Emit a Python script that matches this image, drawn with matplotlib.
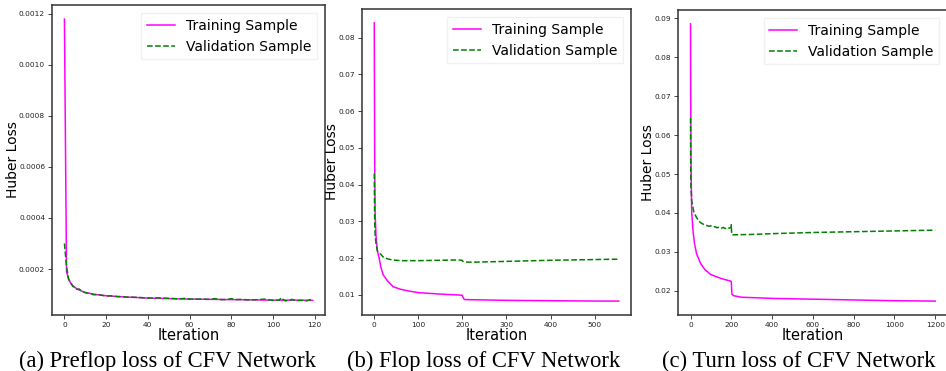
import matplotlib
matplotlib.use('Agg')
import matplotlib.pyplot as plt

# (a) preflop
pre_it_train = [0, 1, 2, 3, 4, 5, 6, 8, 10, 15, 20, 30, 40, 50, 60, 70, 80, 90, 100, 110, 119]
pre_train = [0.00118, 0.00019, 0.00016, 0.000145, 0.000135, 0.000128, 0.000122, 0.000114,
             0.000108, 0.0001, 0.000095, 0.00009, 0.000086, 0.000084, 0.000082, 0.000081,
             0.00008, 0.000079, 0.000078, 0.000078, 0.000077]
pre_it_val = [0, 1, 2, 3, 4, 5, 6, 7, 8, 10, 12, 14, 16, 18, 20, 22, 25, 28, 30, 35, 40, 45,
              50, 55, 58, 60, 65, 70, 72, 75, 78, 80, 82, 85, 88, 90, 93, 96, 98, 100, 103,
              104, 105, 106, 108, 109, 111, 114, 116, 118, 119]
pre_val = [0.0003, 0.00021, 0.00016, 0.000145, 0.000132, 0.000128, 0.00012, 0.000122,
           0.000115, 0.000107, 0.000104, 0.000099, 0.0001, 0.000097, 0.000094, 0.000095,
           0.000092, 0.000091, 0.00009, 0.000089, 0.000086, 0.000087, 0.000085, 0.000083,
           0.000085, 0.000082, 0.000082, 0.000081, 0.000084, 0.00008, 0.00008, 0.000084,
           0.00008, 0.000081, 0.000079, 0.000079, 0.00008, 0.000082, 0.000079, 0.000077,
           0.000078, 0.000088, 0.000079, 0.000075, 0.000077, 0.000081, 0.000076, 0.000077,
           0.000075, 0.00008, 0.000077]

# (b) flop
flop_it_train = [0, 1, 2, 4, 7, 11, 15, 20, 30, 43, 60, 80, 100, 150, 199, 200, 203, 206,
                 250, 300, 400, 500, 555]
flop_train = [0.084, 0.045, 0.032, 0.026, 0.022, 0.02, 0.0175, 0.0155, 0.0138, 0.0122,
              0.0115, 0.011, 0.0106, 0.0102, 0.0099, 0.0098, 0.0089, 0.0087, 0.0086, 0.0085,
              0.0084, 0.0083, 0.0083]
flop_it_val = [0, 1, 2, 4, 7, 10, 15, 20, 30, 40, 60, 80, 100, 150, 190, 199, 200, 205, 230,
               300, 400, 500, 555]
flop_val = [0.043, 0.03, 0.026, 0.024, 0.022, 0.0215, 0.021, 0.0203, 0.0198, 0.0195, 0.0193,
            0.0193, 0.0193, 0.0194, 0.0195, 0.0194, 0.0192, 0.0189, 0.0189, 0.0191, 0.0194,
            0.0196, 0.0197]

# (c) turn
turn_it_train = [0, 1, 2, 3, 6, 13, 20, 30, 50, 70, 100, 150, 199, 200, 203, 210, 250, 400,
                 600, 800, 1000, 1200]
turn_train = [0.0885, 0.07, 0.058, 0.05, 0.04, 0.035, 0.032, 0.0295, 0.027, 0.0255, 0.0242,
              0.0232, 0.0225, 0.0224, 0.0192, 0.0188, 0.0184, 0.0181, 0.0179, 0.0177, 0.0175,
              0.0174]
turn_it_val = [0, 1, 2, 4, 6, 10, 15, 20, 30, 40, 50, 60, 70, 80, 90, 100, 110, 120, 130, 140,
               150, 160, 170, 180, 190, 199, 200, 202, 205, 300, 400, 600, 800, 1000, 1200]
turn_val = [0.0644, 0.052, 0.047, 0.045, 0.043, 0.0421, 0.0405, 0.0398, 0.0388, 0.038, 0.0375,
            0.0372, 0.0369, 0.0368, 0.0366, 0.0367, 0.0364, 0.0365, 0.0362, 0.0364, 0.0361,
            0.0363, 0.036, 0.0363, 0.0361, 0.0364, 0.037, 0.0345, 0.0344, 0.0345, 0.0347,
            0.035, 0.0352, 0.0354, 0.0356]

captions = ['(a) Preflop loss of CFV Network', '(b) Flop loss of CFV Network',
            '(c) Turn loss of CFV Network']

fig = plt.figure(figsize=(9.46, 3.71), dpi=100)
boxes = [[0.055, 0.151, 0.2886, 0.8356],
         [0.3827, 0.151, 0.2844, 0.8248],
         [0.7170, 0.151, 0.2845, 0.822]]
ylab_x = [-0.143, -0.113, -0.111]
cap_x = [167 / 946, 484 / 946, 799 / 946]
series = [(pre_it_train, pre_train, pre_it_val, pre_val),
          (flop_it_train, flop_train, flop_it_val, flop_val),
          (turn_it_train, turn_train, turn_it_val, turn_val)]

for i, (box, (xt, yt, xv, yv), cap) in enumerate(zip(boxes, series, captions)):
    ax = fig.add_axes(box)
    ax.plot(xt, yt, color='#ff00ff', lw=1.1, label='Training Sample')
    ax.plot(xv, yv, color='g', ls='--', lw=1.1, label='Validation Sample')
    ax.set_xlabel('Iteration', fontsize=10.5, labelpad=0)
    ax.set_ylabel('Huber Loss', fontsize=10, va='center')
    ax.yaxis.set_label_coords(ylab_x[i], 0.5)
    ax.tick_params(labelsize=5.3, length=3, width=0.6, pad=2, colors='#222222')
    for s in ax.spines.values():
        s.set_color('#333333')
        s.set_linewidth(1.1)
    ax.legend(loc='upper right', fontsize=10, frameon=True, framealpha=0.8,
              edgecolor='#eeeeee', fancybox=False, borderaxespad=0.6)
    fig.text(cap_x[i], 0.012, cap, ha='center', va='baseline', fontsize=16.3,
             family='Liberation Serif')

fig.savefig('out.png', dpi=100)
